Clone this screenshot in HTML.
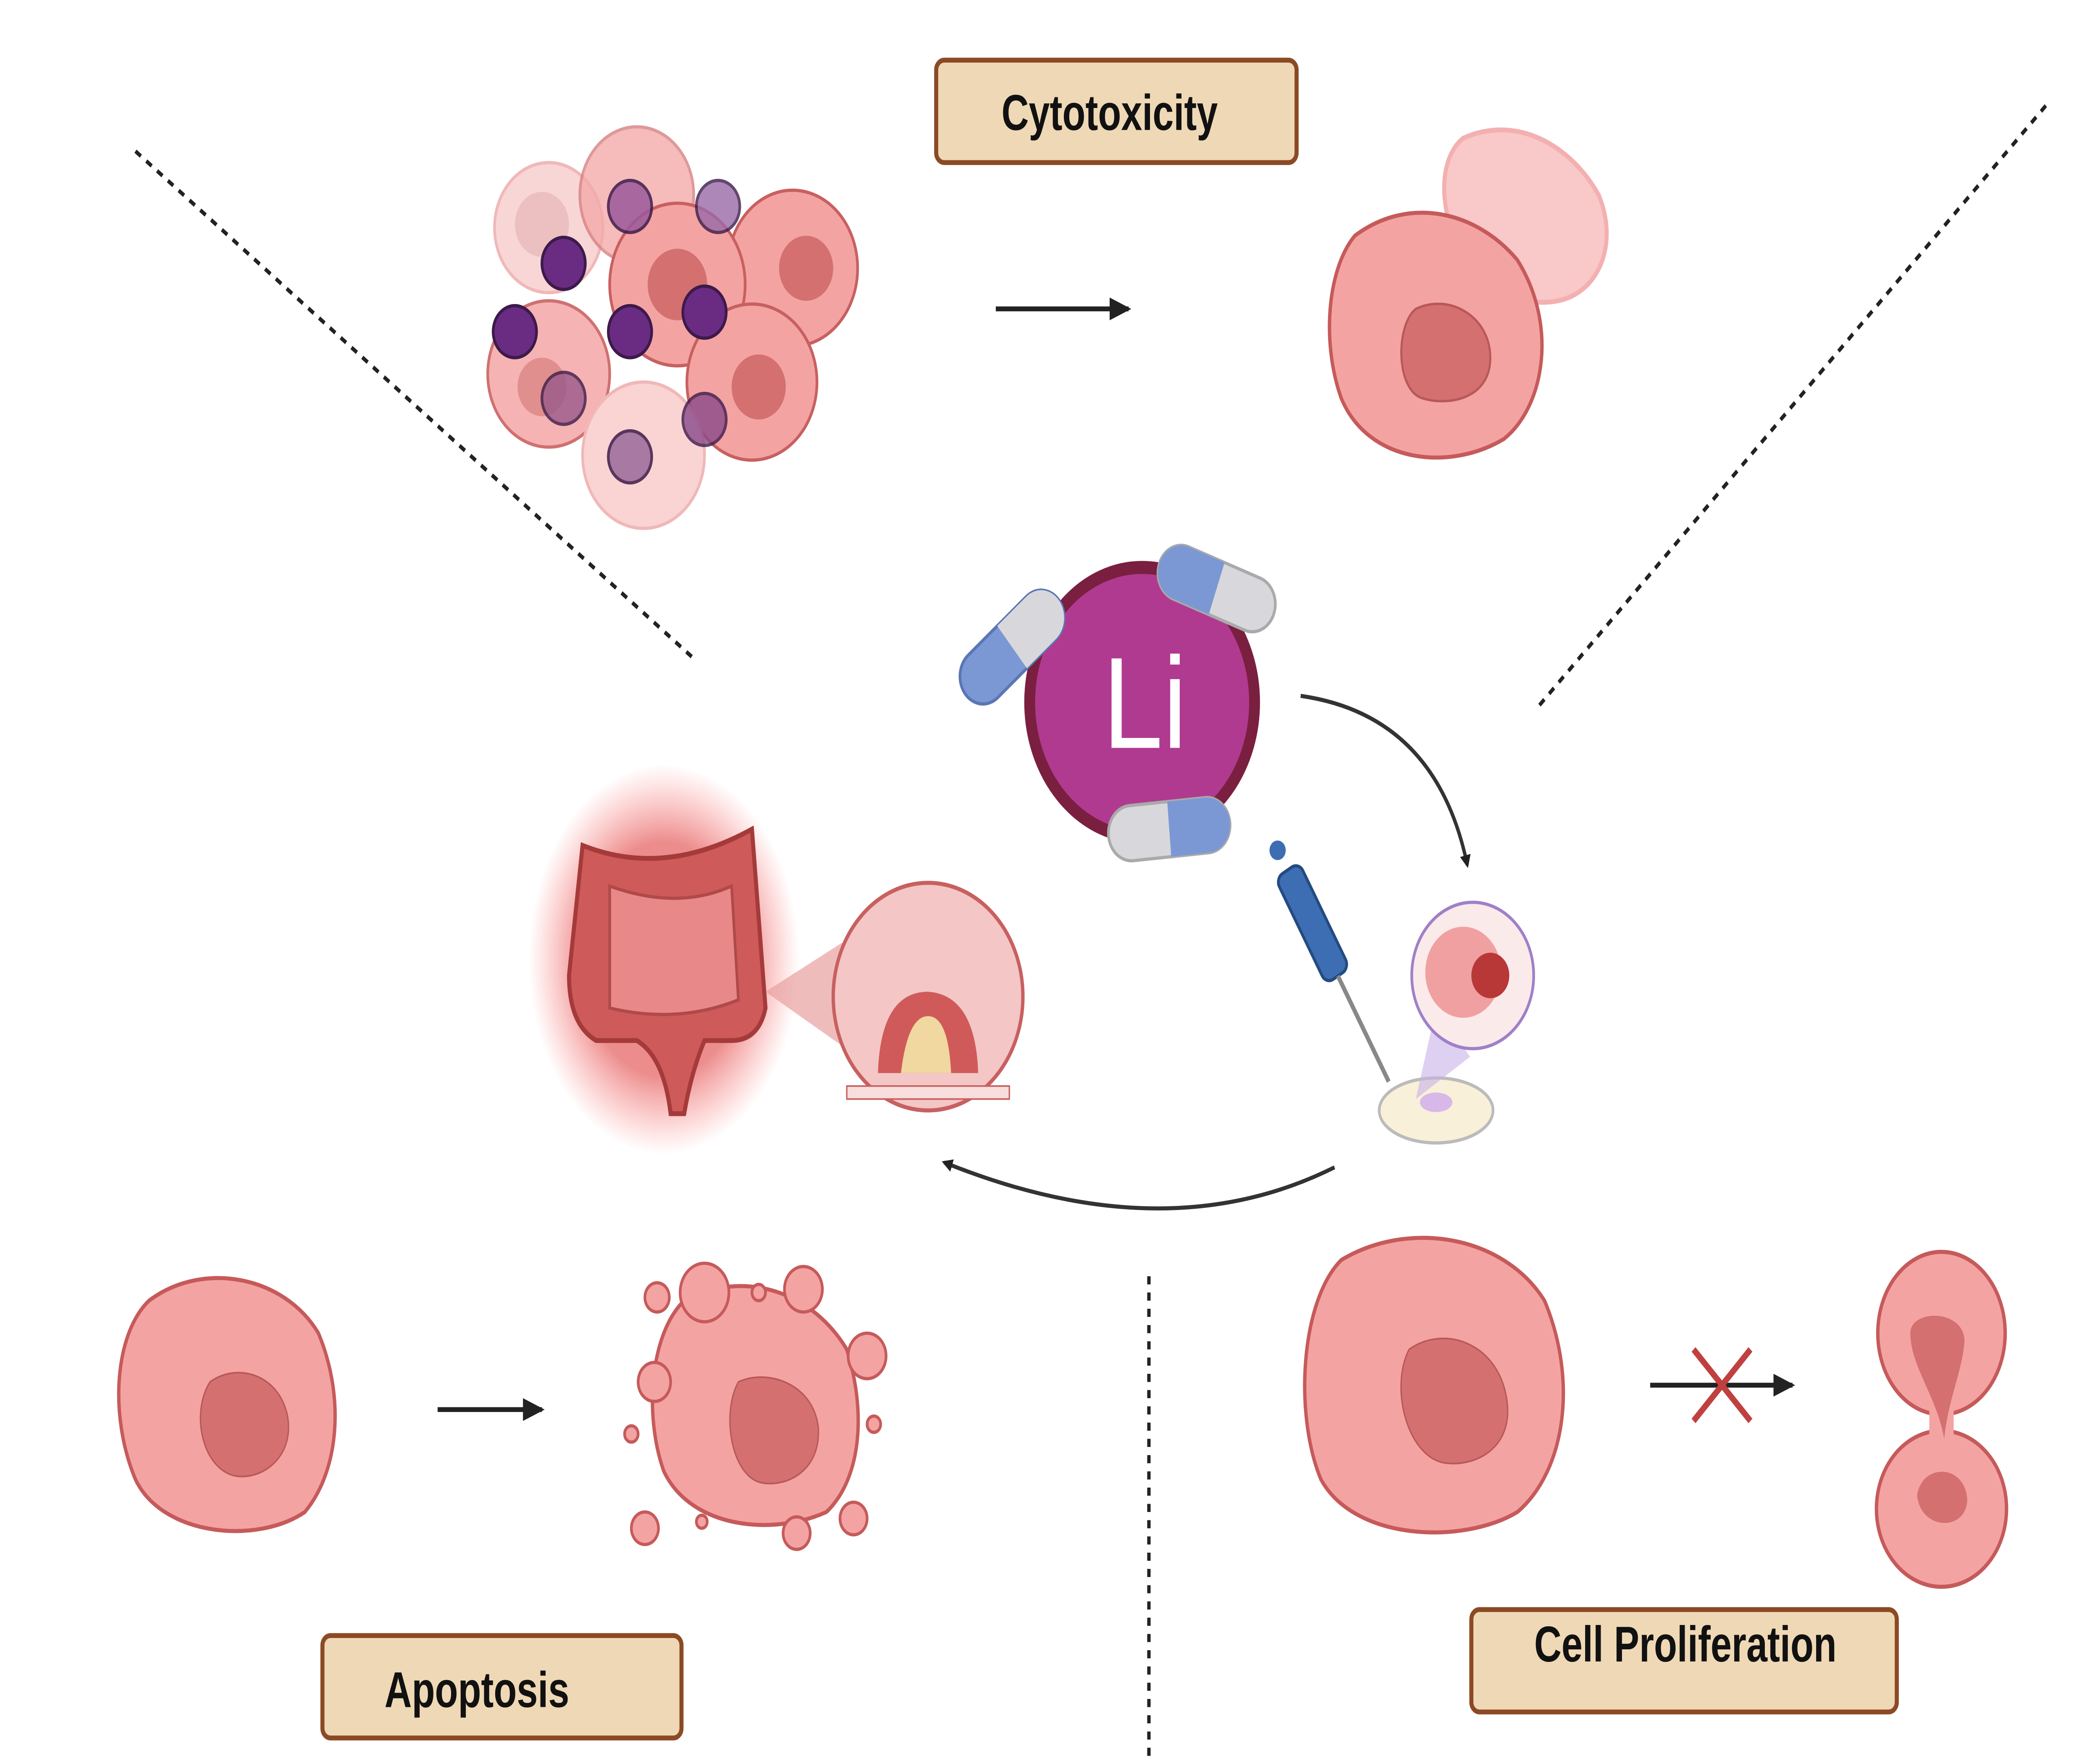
<!DOCTYPE html>
<html><head><meta charset="utf-8"><style>
html,body{margin:0;padding:0;background:#fff;width:100%;height:100%;overflow:hidden}
svg{display:block;position:fixed;left:0;top:0;width:100vw;height:100vh}
text{font-family:"Liberation Sans",sans-serif}
</style></head><body>
<svg viewBox="0 0 1550 1085" preserveAspectRatio="none" xmlns="http://www.w3.org/2000/svg">
<defs>
<marker id="ah" markerWidth="8" markerHeight="8" refX="6" refY="4" orient="auto" markerUnits="userSpaceOnUse"><path d="M0,0 L8,4 L0,8z" fill="#222"/></marker>
<marker id="ah2" markerWidth="16" markerHeight="14" refX="14" refY="7" orient="auto" markerUnits="userSpaceOnUse"><path d="M0,0 L16,7 L0,14z" fill="#222"/></marker>
<radialGradient id="glow"><stop offset="0.6" stop-color="#e04040" stop-opacity="0.6"/><stop offset="1" stop-color="#ff6060" stop-opacity="0"/></radialGradient>
</defs>

<g stroke="#222" stroke-width="2.5" stroke-dasharray="5,5" fill="none">
<line x1="100" y1="93" x2="512" y2="405"/>
<line x1="1510" y1="65" x2="1135" y2="435"/>
<line x1="848" y1="785" x2="848" y2="1085"/>
</g>

<g fill="#efd8b5" stroke="#8b4a25" stroke-width="3">
<rect x="691" y="37" width="266" height="63" rx="6"/>
<rect x="238" y="1006" width="265" height="63" rx="6"/>
<rect x="1086" y="990" width="314" height="63" rx="6"/>
</g>
<g font-weight="bold" font-size="31" fill="#111" text-anchor="middle">
<text x="819" y="80" transform="translate(819 0) scale(0.9 1) translate(-819 0)">Cytotoxicity</text>
<text x="352" y="1050" transform="translate(352 0) scale(0.9 1) translate(-352 0)">Apoptosis</text>
<text x="1244" y="1022" transform="translate(1244 0) scale(0.9 1) translate(-1244 0)">Cell Proliferation</text>
</g>

<g stroke-width="2">
<circle cx="405" cy="140" r="40" fill="#f8d6d6" stroke="#f0b8b8"/>
<circle cx="470" cy="120" r="42" fill="#f4aaaa" stroke="#d88080" opacity="0.8"/>
<circle cx="585" cy="165" r="48" fill="#f4a3a3" stroke="#c86060"/>
<circle cx="500" cy="175" r="50" fill="#f4a3a3" stroke="#c86060"/>
<circle cx="405" cy="230" r="45" fill="#f6b3b3" stroke="#d07070"/>
<circle cx="555" cy="235" r="48" fill="#f4a3a3" stroke="#c86060"/>
<circle cx="475" cy="280" r="45" fill="#fad3d3" stroke="#f0b8b8"/>
<circle cx="400" cy="138" r="20" fill="#ecc0c0"/>
<circle cx="595" cy="165" r="20" fill="#d47070"/>
<circle cx="500" cy="175" r="22" fill="#d47070"/>
<circle cx="560" cy="238" r="20" fill="#d47070"/>
<circle cx="400" cy="238" r="18" fill="#e08e8e"/>
</g>
<g stroke="#3d1a4a" stroke-width="2">
<circle cx="416" cy="162" r="16" fill="#6a2c82"/>
<circle cx="380" cy="204" r="16" fill="#6a2c82"/>
<circle cx="465" cy="204" r="16" fill="#6a2c82"/>
<circle cx="520" cy="192" r="16" fill="#6a2c82"/>
<circle cx="465" cy="127" r="16" fill="#9a5a9a" opacity="0.85"/>
<circle cx="530" cy="127" r="16" fill="#9a6aa8" opacity="0.8"/>
<circle cx="416" cy="245" r="16" fill="#9a5a8a" opacity="0.8"/>
<circle cx="520" cy="258" r="16" fill="#8a4a8a" opacity="0.8"/>
<circle cx="465" cy="281" r="16" fill="#9a6a9a" opacity="0.85"/>
</g>
<line x1="735" y1="190" x2="833" y2="190" stroke="#222" stroke-width="3" marker-end="url(#ah2)"/>

<path d="M1080,85 C1120,70 1160,90 1180,120 C1195,150 1180,180 1150,185 C1120,190 1090,175 1075,150 C1060,120 1065,95 1080,85z" fill="#f9c8c8" stroke="#f4b0b0" stroke-width="3"/>
<path d="M1000,145 C1040,120 1090,130 1120,160 C1150,200 1140,250 1110,270 C1070,290 1010,285 990,245 C975,210 980,165 1000,145z" fill="#f4a3a3" stroke="#c65a5a" stroke-width="2.5"/>
<path d="M1045,190 C1070,180 1100,195 1100,220 C1100,245 1070,250 1050,245 C1030,240 1030,200 1045,190z" fill="#d47070" stroke="#b85858" stroke-width="1.5"/>

<circle cx="843" cy="432" r="83" fill="#b03a90" stroke="#7a1f40" stroke-width="8"/>
<text x="845" y="460" font-size="80" fill="#fff" text-anchor="middle">Li</text>
<g transform="translate(747 398) rotate(-40)"><rect x="-45" y="-17" width="90" height="34" rx="17" fill="#7c98d4" stroke="#5a76b4" stroke-width="2"/><rect x="0" y="-17" width="45" height="34" rx="17" fill="#d8d8dc"/><rect x="0" y="-17" width="20" height="34" fill="#d8d8dc"/></g>
<g transform="translate(898 362) rotate(20)"><rect x="-45" y="-17" width="90" height="34" rx="17" fill="#d8d8dc" stroke="#aaa" stroke-width="2"/><rect x="-45" y="-17" width="45" height="34" rx="17" fill="#7c98d4"/><rect x="-20" y="-17" width="20" height="34" fill="#7c98d4"/></g>
<g transform="translate(863 510) rotate(-5)"><rect x="-45" y="-17" width="90" height="34" rx="17" fill="#d8d8dc" stroke="#aaa" stroke-width="2"/><rect x="0" y="-17" width="45" height="34" rx="17" fill="#7c98d4"/><rect x="0" y="-17" width="20" height="34" fill="#7c98d4"/></g>

<path d="M960,428 Q1060,440 1083,532" fill="none" stroke="#333" stroke-width="2.5" marker-end="url(#ah)"/>
<path d="M985,718 Q860,770 697,715" fill="none" stroke="#333" stroke-width="2.5" marker-end="url(#ah)"/>

<ellipse cx="490" cy="590" rx="100" ry="120" fill="url(#glow)"/>
<path d="M430,520 Q490,540 555,510 L565,620 Q560,640 540,640 L520,640 Q510,660 505,685 L495,685 Q490,650 470,640 L440,640 Q420,630 420,600z" fill="#cf5a5a" stroke="#a53a3a" stroke-width="3"/>
<path d="M450,545 Q500,560 540,545 L545,615 Q500,630 450,620z" fill="#e88888" stroke="#b04a4a" stroke-width="2"/>
<polygon points="565,610 640,570 650,660" fill="#e8a0a0" opacity="0.7"/>
<circle cx="685" cy="613" r="70" fill="#f4c6c6" stroke="#c86060" stroke-width="2.5"/>
<path d="M648,660 Q650,610 685,610 Q720,612 722,660z" fill="#d05a5a"/>
<path d="M665,660 Q670,625 685,625 Q700,625 702,660z" fill="#f0d8a0"/>
<rect x="625" y="668" width="120" height="8" fill="#f8dddd" stroke="#c86060"/>

<g transform="translate(970 570) rotate(-30)"><rect x="-10" y="-40" width="20" height="75" rx="6" fill="#3d6db3" stroke="#234b80" stroke-width="2"/><line x1="0" y1="35" x2="0" y2="110" stroke="#888" stroke-width="3"/></g>
<circle cx="943" cy="523" r="6" fill="#3d6db3"/>
<ellipse cx="1060" cy="683" rx="42" ry="20" fill="#f8f0d8" stroke="#bbb" stroke-width="2"/>
<ellipse cx="1060" cy="678" rx="12" ry="6" fill="#d8b8e8"/>
<polygon points="1045,676 1060,620 1085,650" fill="#c8b0e8" opacity="0.6"/>
<circle cx="1087" cy="600" r="45" fill="#fbeaea" stroke="#a080c8" stroke-width="2"/>
<circle cx="1080" cy="598" r="28" fill="#f0a0a0"/>
<circle cx="1100" cy="600" r="14" fill="#b83838"/>

<path d="M110,800 C150,775 210,785 235,820 C255,860 250,905 225,930 C190,950 120,945 100,910 C80,870 85,820 110,800z" fill="#f4a3a3" stroke="#c65a5a" stroke-width="2.5"/>
<path d="M155,850 C175,838 205,845 212,870 C218,895 195,910 175,908 C150,905 140,870 155,850z" fill="#d47070" stroke="#b85858"/>
<line x1="323" y1="867" x2="400" y2="867" stroke="#222" stroke-width="3" marker-end="url(#ah2)"/>
<path d="M505,800 C550,780 600,795 625,830 C640,870 635,910 610,930 C570,945 510,940 490,905 C475,870 480,820 505,800z" fill="#f4a3a3" stroke="#c65a5a" stroke-width="2.5"/>
<path d="M545,850 C565,842 600,850 604,878 C606,905 580,915 562,912 C540,908 532,870 545,850z" fill="#d47070" stroke="#b85858"/>
<g fill="#f4a3a3" stroke="#c65a5a" stroke-width="2">
<circle cx="520" cy="795" r="18"/><circle cx="593" cy="793" r="14"/><circle cx="485" cy="798" r="9"/><circle cx="640" cy="834" r="14"/><circle cx="483" cy="850" r="12"/><circle cx="466" cy="882" r="5"/><circle cx="645" cy="876" r="5"/><circle cx="476" cy="940" r="10"/><circle cx="630" cy="934" r="10"/><circle cx="588" cy="943" r="10"/><circle cx="518" cy="936" r="4"/><circle cx="560" cy="795" r="5"/>
</g>

<path d="M990,775 C1040,750 1110,760 1140,800 C1165,850 1155,905 1120,930 C1080,950 1000,948 975,910 C955,870 960,800 990,775z" fill="#f4a3a3" stroke="#c65a5a" stroke-width="2.5"/>
<path d="M1040,830 C1065,815 1105,825 1112,860 C1118,890 1090,902 1068,900 C1040,898 1025,855 1040,830z" fill="#d47070" stroke="#b85858"/>
<line x1="1218" y1="852" x2="1323" y2="852" stroke="#222" stroke-width="3" marker-end="url(#ah2)"/>
<g stroke="#c04040" stroke-width="4"><line x1="1250" y1="830" x2="1292" y2="874"/><line x1="1292" y1="830" x2="1250" y2="874"/></g>
<g fill="#f4a3a3" stroke="#c65a5a" stroke-width="2.5">
<ellipse cx="1433" cy="820" rx="47" ry="50"/>
<ellipse cx="1433" cy="928" rx="48" ry="48"/>
<rect x="1424" y="860" width="18" height="40" stroke="none"/>
</g>
<path d="M1410,820 C1410,805 1450,805 1450,825 C1448,845 1438,860 1435,885 C1430,860 1410,840 1410,820z" fill="#d47070"/>
<path d="M1415,920 C1418,900 1450,900 1452,922 C1452,942 1418,942 1415,920z" fill="#d47070"/>
</svg>
</body></html>
